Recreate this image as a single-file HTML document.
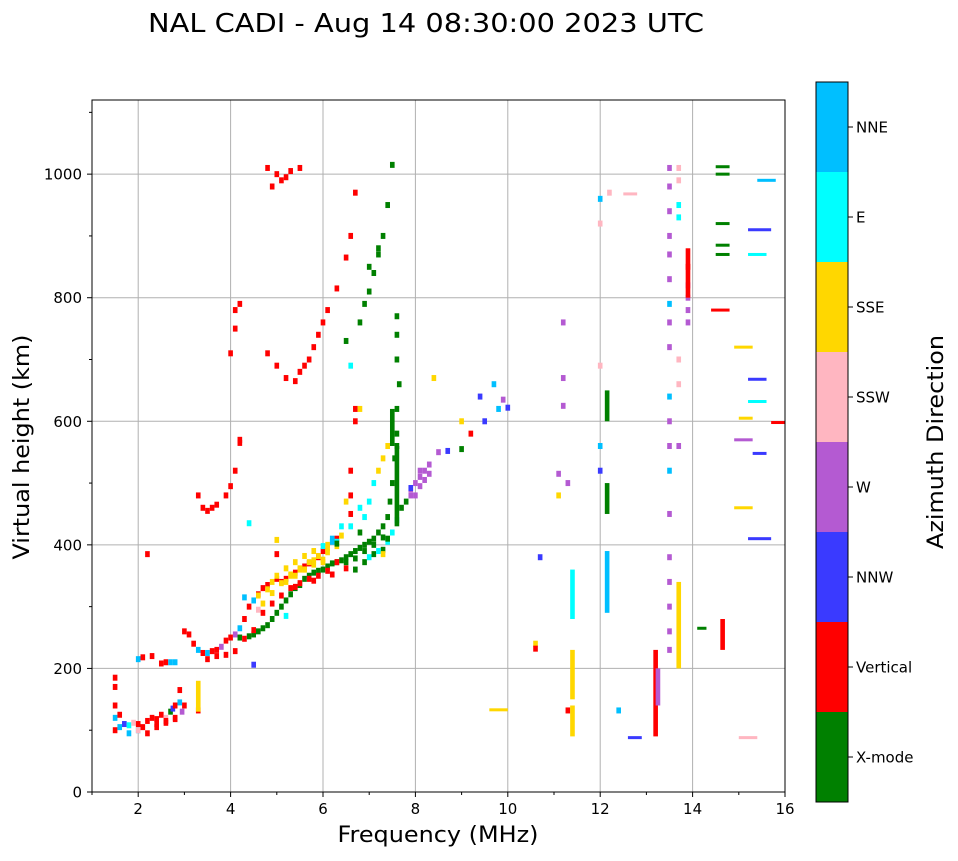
<!DOCTYPE html>
<html><head><meta charset="utf-8"><style>
body{margin:0;background:#fff;font-family:"DejaVu Sans",sans-serif}
svg text{font-family:"DejaVu Sans",sans-serif}
</style></head><body>
<svg id="chart" width="958" height="857">
<text x="426" y="32" text-anchor="middle" font-size="26" textLength="556" lengthAdjust="spacingAndGlyphs">NAL CADI - Aug 14 08:30:00 2023 UTC</text>
<g id="grid"></g><g id="marks"></g><g id="axes"></g><g id="cbar"></g>
<text x="438" y="842" text-anchor="middle" font-size="22" textLength="201" lengthAdjust="spacingAndGlyphs">Frequency (MHz)</text>
<text transform="translate(29,447) rotate(-90)" text-anchor="middle" font-size="22" textLength="225" lengthAdjust="spacingAndGlyphs">Virtual height (km)</text>
<text transform="translate(943,442) rotate(-90)" text-anchor="middle" font-size="22" textLength="214" lengthAdjust="spacingAndGlyphs">Azimuth Direction</text>
</svg>
<script>
const categories=["X-mode","Vertical","NNW","W","SSW","SSE","E","NNE"];
const catColors=["#008000","#ff0000","#3a3aff","#b45ad2","#ffb6c1","#ffd700","#00ffff","#00bfff"];
const xTicks=[2,4,6,8,10,12,14,16];
const yTicks=[0,200,400,600,800,1000];
// points: freq, height, category
const pF=[1.5,1.5,1.5,1.5,1.5,1.6,1.7,1.8,1.9,2.0,2.0,2.1,2.2,2.3,2.4,2.5,2.6,2.7,2.75,2.8,2.9,2.95,3.0,2.9,2.0,2.1,2.3,2.5,2.6,2.7,2.8,
3.0,3.1,3.2,3.3,3.4,3.5,3.6,3.7,3.8,3.9,4.0,4.1,4.2,4.3,4.4,4.5,4.6,4.7,4.8,4.9,5.0,5.1,5.2,5.3,5.4,5.5,5.6,5.7,5.8,5.9,6.0,6.1,6.2,6.3,
4.6,4.8,5.0,5.2,5.4,5.6,5.8,6.0,6.2,6.4,6.1,6.3,6.6,6.8,7.0,7.1,7.2,7.3,7.4,6.9,
4.2,4.4,4.5,4.6,4.7,4.8,4.9,5.0,5.1,5.2,5.3,5.4,5.5,5.6,5.7,5.8,5.9,6.0,6.1,6.2,6.3,6.4,6.5,6.6,6.7,6.8,6.9,7.0,7.1,7.2,7.3,7.4,7.45,7.5,7.55,7.6,7.6,7.65,7.6,7.6,7.6,7.6,
4.8,5.0,5.2,5.4,5.5,5.6,5.7,5.8,5.9,6.0,6.1,6.3,6.5,6.6,6.7,4.0,4.1,4.2,4.1,4.8,5.0,5.1,5.2,5.3,5.5,4.9,
3.3,3.4,3.5,3.6,3.7,3.9,4.0,4.1,4.2,4.2,6.6,6.6,6.7,6.7,6.6,6.8,6.5,6.4,
6.5,6.8,6.9,7.0,7.1,7.2,7.3,7.4,7.5,7.2,7.0,6.6,
7.9,8.0,8.1,8.2,8.3,8.5,8.7,9.0,9.2,9.5,9.8,9.7,9.4,8.4,9.0,10.0,9.9,
13.5,13.5,13.5,13.5,13.5,13.5,13.5,13.5,13.5,13.5,13.5,13.5,13.5,13.5,13.5,13.5,13.5,13.5,13.5,13.9,13.9,13.9,13.9,13.9,13.7,13.7,13.7,13.7,13.7,13.7,13.7,12.0,12.0,12.0,12.0,12.0,11.2,11.2,11.2,11.3,11.1,11.1,10.7,10.6,10.6,11.3,12.4,12.2,
4.5,4.7,4.9,5.1,5.3,5.5,5.7,5.9,6.1,6.3,5.0,5.4,5.8,6.2,6.5,6.7,6.9,7.1,7.3,6.3,6.5,6.7,6.9,7.1,7.3,6.8,7.0,7.2,7.4,4.4,4.6,4.3,5.2,5.6,6.0,
2.2,2.4,2.6,2.8,1.6,1.8,2.0,2.2,2.4,2.6,2.8,3.3,3.5,3.7,3.9,4.1,4.3,4.5,4.7,4.9,5.1,5.3,5.5,5.7,5.9,6.1,6.3,5.0,5.2,5.4,5.6,5.8,6.0,
7.3,7.4,7.5,7.6,7.7,7.8,7.9,8.0,8.1,8.2,8.3,8.1,7.9];
const pH=[100,120,140,170,185,105,110,108,112,100,110,105,115,120,118,125,120,130,135,140,145,130,140,165,215,218,220,208,210,210,210,
260,255,240,230,225,225,228,230,235,245,250,255,265,280,300,310,320,330,335,340,345,340,345,350,355,360,365,370,375,380,390,400,405,410,
318,328,350,362,372,382,390,398,410,415,395,405,430,460,470,500,520,540,560,445,
250,252,255,260,265,270,280,290,300,310,320,330,335,345,350,355,358,360,365,370,372,375,380,385,390,395,400,405,410,420,430,445,470,500,540,580,620,660,700,740,770,560,
710,690,670,665,680,690,700,720,740,760,780,815,865,900,970,710,750,790,780,1010,1000,990,995,1005,1010,980,
480,460,455,460,465,480,495,520,570,565,520,480,600,620,450,620,470,430,
730,760,790,810,840,870,900,950,1015,880,850,690,
490,500,510,520,530,550,552,555,580,600,620,660,640,670,600,622,635,
1010,980,940,900,870,830,790,760,720,640,600,560,520,450,380,340,300,260,230,850,820,800,780,760,1010,990,950,930,700,660,560,
960,920,690,560,520,760,670,625,500,515,480,380,240,232,132,132,970,206,
305,322,338,352,362,372,382,388,398,408,332,342,352,362,360,372,385,392,402,372,378,390,400,412,420,380,390,405,435,295,315,285,360,372,385,
110,115,120,125,95,100,95,105,112,118,132,215,220,222,228,248,262,290,305,318,330,338,345,350,358,372,385,340,350,360,368,376,385,
410,420,440,460,470,480,480,495,505,515,520,492,485];
const pC=[1,7,1,1,1,7,2,6,4,7,1,1,1,1,1,1,4,0,2,1,7,3,1,1,7,1,1,1,1,7,7,
1,1,1,7,1,7,1,1,3,1,1,3,7,1,1,7,1,1,1,5,1,1,1,5,1,5,1,1,5,1,1,5,7,1,
5,5,5,5,5,5,5,6,7,5,5,6,6,6,6,6,5,5,5,6,
0,0,0,0,0,0,0,0,0,0,0,0,0,0,0,0,0,0,0,0,0,0,0,0,0,0,0,0,0,0,0,0,0,0,0,0,0,0,0,0,0,0,
1,1,1,1,1,1,1,1,1,1,1,1,1,1,1,1,1,1,1,1,1,1,1,1,1,1,
1,1,1,1,1,1,1,1,1,1,1,1,1,1,1,5,5,6,
0,0,0,0,0,0,0,0,0,0,0,6,
3,3,3,3,3,3,2,0,1,2,7,7,2,5,5,2,3,
3,3,3,3,3,3,7,3,3,7,3,3,7,3,3,3,3,3,3,1,3,3,3,3,4,4,6,6,4,4,3,
7,4,4,7,2,3,3,3,3,3,5,2,5,1,1,7,4,2,
5,5,5,5,5,5,5,5,5,5,1,1,1,1,0,0,0,0,0,0,0,0,0,0,0,6,6,6,6,4,7,6,5,5,1,
1,1,1,1,7,4,1,1,1,1,1,1,1,1,1,1,1,1,1,1,1,1,1,1,1,1,1,5,5,5,5,5,5,
0,6,6,0,0,3,3,3,3,3,3,2,5];
// vertical streaks: freq, h1, h2, category
const vF=[3.3,11.4,11.4,11.4,12.15,12.15,12.15,13.2,13.25,13.7,14.65,13.9,7.6,7.5];
const vH1=[130,90,150,280,290,450,600,90,140,200,230,800,430,560];
const vH2=[180,140,230,360,390,500,650,230,200,340,280,880,560,620];
const vC=[5,5,5,6,7,0,0,1,3,5,1,1,0,0];
// horizontal segments: freq1, freq2, height, category
const hF1=[9.6,12.5,14.4,14.5,14.5,14.9,15.2,15.2,15.0,14.9,14.9,15.3,15.2,15.2,15.4,15.2,15.0,12.6,15.7,14.5,14.5,14.5,14.1];
const hF2=[10.0,12.8,14.8,14.8,14.8,15.3,15.6,15.6,15.3,15.3,15.3,15.6,15.7,15.7,15.8,15.6,15.4,12.9,16.0,14.8,14.8,14.8,14.3];
const hH=[133,968,780,1000,920,720,668,632,605,570,460,548,410,910,990,870,88,88,598,885,870,1012,265];
const hC=[5,4,1,0,0,5,2,6,5,3,5,2,2,2,7,6,4,2,1,0,0,0,0];
const X0=92,X1=785,Y0=792,Y1=100;
const xs=f=>X0+(f-1)/15*(X1-X0);
const ys=h=>Y0-h/1120*(Y0-Y1);
const NS="http://www.w3.org/2000/svg";
function mk(t,a,p){const e=document.createElementNS(NS,t);for(const k in a)e.setAttribute(k,a[k]);p.appendChild(e);return e;}
const grid=document.getElementById('grid'),marks=document.getElementById('marks'),axes=document.getElementById('axes'),cbar=document.getElementById('cbar');
xTicks.forEach(t=>{const l=mk('line',{x1:xs(t),x2:xs(t),y1:Y1,y2:Y0,stroke:'#b0b0b0','stroke-width':1},grid);


const tk=mk('line',{x1:xs(t),x2:xs(t),y1:Y0,y2:Y0+5,stroke:'#000'},axes);


const tx=mk('text',{x:xs(t),y:Y0+22,'text-anchor':'middle','font-size':15},axes);tx.textContent=t;

});
for(let t=1;t<16;t+=2){const tk=mk('line',{x1:xs(t),x2:xs(t),y1:Y0,y2:Y0+3,stroke:'#000'},axes);

}
yTicks.forEach(t=>{const l=mk('line',{x1:X0,x2:X1,y1:ys(t),y2:ys(t),stroke:'#b0b0b0','stroke-width':1},grid);


const tk=mk('line',{x1:X0-5,x2:X0,y1:ys(t),y2:ys(t),stroke:'#000'},axes);


const tx=mk('text',{x:X0-10,y:ys(t)+5.5,'text-anchor':'end','font-size':15},axes);tx.textContent=t;

});
for(let t=100;t<1120;t+=200){const tk=mk('line',{x1:X0-3,x2:X0,y1:ys(t),y2:ys(t),stroke:'#000'},axes);

}
const fr=mk('rect',{x:X0,y:Y1,width:X1-X0,height:Y0-Y1,fill:'none',stroke:'#000'},axes);


const mw=xs(1.1)-xs(1);
for(let i=0;i<pF.length;i++){const r=mk('rect',{x:xs(pF[i])-mw/2,y:ys(pH[i])-3,width:mw,height:6,fill:catColors[pC[i]]},marks);

}
for(let i=0;i<vF.length;i++){const r=mk('rect',{x:xs(vF[i])-mw/2,y:ys(vH2[i]),width:mw,height:ys(vH1[i])-ys(vH2[i]),fill:catColors[vC[i]]},marks);

}
for(let i=0;i<hF1.length;i++){const r=mk('rect',{x:xs(hF1[i]),y:ys(hH[i])-1.5,width:xs(hF2[i])-xs(hF1[i]),height:3,fill:catColors[hC[i]]},marks);

}
const CX=816,CW=32,CT=82,CB=802,ch=(CB-CT)/categories.length;
categories.forEach((c,i)=>{const y=CB-(i+1)*ch;
const r=mk('rect',{x:CX,y:y,width:CW,height:ch,fill:catColors[i]},cbar);


const tk=mk('line',{x1:CX+CW,x2:CX+CW+5,y1:y+ch/2,y2:y+ch/2,stroke:'#000'},cbar);


const t=mk('text',{x:CX+CW+8,y:y+ch/2+5.5,'font-size':15},cbar);t.textContent=c;

});
const cf=mk('rect',{x:CX,y:CT,width:CW,height:CB-CT,fill:'none',stroke:'#000'},cbar);


</script>
</body></html>
